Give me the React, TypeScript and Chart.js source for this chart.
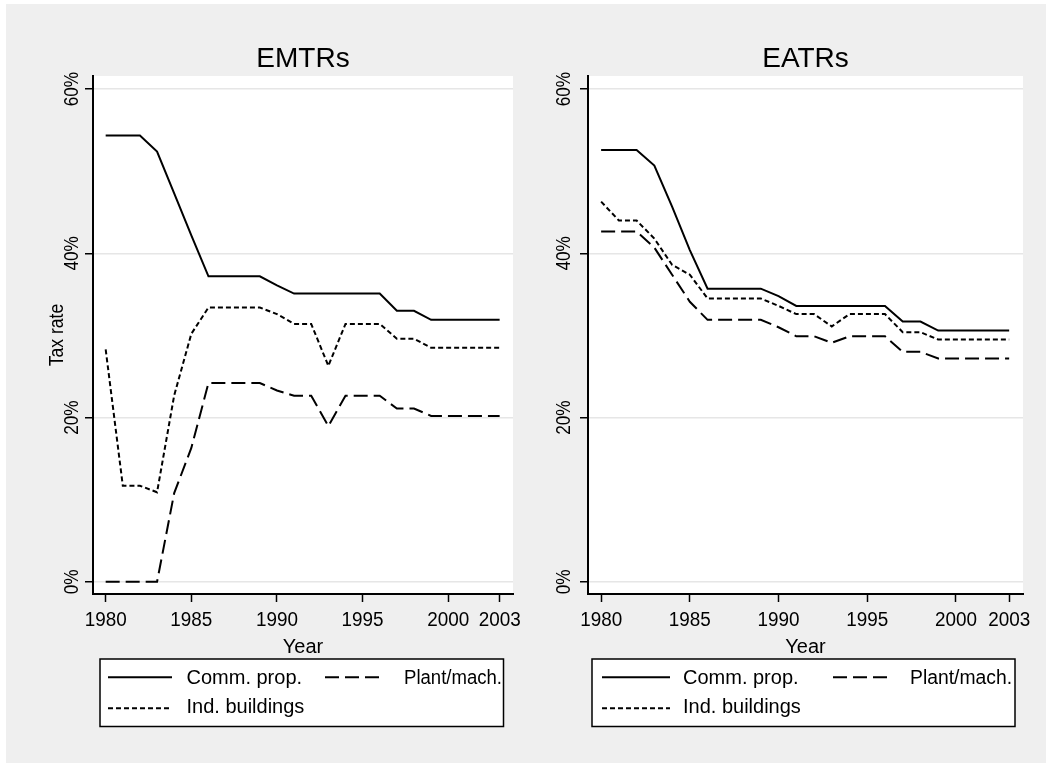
import React, { useEffect, useRef } from "react";
import { Chart, registerables } from "chart.js";

Chart.register(...registerables);

// ---------------- data ----------------
const years = [1980, 1981, 1982, 1983, 1984, 1985, 1986, 1987, 1988, 1989, 1990, 1991, 1992, 1993, 1994, 1995, 1996, 1997, 1998, 1999, 2000, 2001, 2002, 2003];

const emtrComm = [54.35, 54.35, 54.35, 52.4, 47.3, 42.2, 37.2, 37.2, 37.2, 37.2, 36.1, 35.1, 35.1, 35.1, 35.1, 35.1, 35.1, 33.0, 33.0, 31.9, 31.9, 31.9, 31.9, 31.9];
const emtrPlant = [0, 0, 0, 0, 10.8, 16.3, 24.2, 24.2, 24.2, 24.2, 23.3, 22.65, 22.65, 18.96, 22.65, 22.65, 22.65, 21.1, 21.1, 20.2, 20.2, 20.2, 20.2, 20.2];
const emtrInd = [28.3, 11.7, 11.7, 10.9, 22.7, 30.2, 33.4, 33.4, 33.4, 33.4, 32.6, 31.4, 31.4, 26.3, 31.4, 31.4, 31.4, 29.6, 29.6, 28.5, 28.5, 28.5, 28.5, 28.5];

const eatrComm = [52.6, 52.6, 52.6, 50.7, 45.7, 40.4, 35.7, 35.7, 35.7, 35.7, 34.8, 33.6, 33.6, 33.6, 33.6, 33.6, 33.6, 31.7, 31.7, 30.6, 30.6, 30.6, 30.6, 30.6];
const eatrPlant = [42.65, 42.65, 42.65, 40.7, 37.4, 34.1, 31.9, 31.9, 31.9, 31.9, 31.0, 29.9, 29.9, 29.1, 29.9, 29.9, 29.9, 28.0, 28.0, 27.2, 27.2, 27.2, 27.2, 27.2];
const eatrInd = [46.3, 44.0, 44.0, 41.8, 38.6, 37.4, 34.5, 34.5, 34.5, 34.5, 33.6, 32.6, 32.6, 31.1, 32.6, 32.6, 32.6, 30.4, 30.4, 29.5, 29.5, 29.5, 29.5, 29.5];

const xTickValues = [1980, 1985, 1990, 1995, 2000, 2003];
const yTickValues = [0, 20, 40, 60];
const yTickLabels = ["0%", "20%", "40%", "60%"];
const seriesNames = ["Comm. prop.", "Plant/mach.", "Ind. buildings"];
const panelTitles = ["EMTRs", "EATRs"];
const xAxisTitle = "Year";
const yAxisTitle = "Tax rate";

// ---------------- layout / style ----------------
const PAGE_H = 763;
const FONT = '"Liberation Sans", Arial, sans-serif';
const SOLID: number[] = [];
const LONG_DASH = [14, 6];
const SHORT_DASH = [5, 3];
const X_MIN = 1979.26;
const X_MAX = 2003.78;
const Y_MIN = -1.49;
const Y_MAX = 61.6;

type Layout = {
  left: number;
  width: number;
  area: { left: number; right: number; top: number; bottom: number };
  yLabelBaseline: number;
  yTitleBaseline: number | null;
  box: [number, number, number, number];
  col1: { s0: number; s1: number; text: number };
  col2: { s0: number; s1: number; text: number; maxW: number };
};

const layouts: Layout[] = [
  {
    left: 0,
    width: 545,
    area: { left: 93, right: 513, top: 76, bottom: 594 },
    yLabelBaseline: 78.4,
    yTitleBaseline: 62.5,
    box: [100, 659, 503.5, 726.5],
    col1: { s0: 108, s1: 172, text: 186.5 },
    col2: { s0: 325, s1: 380, text: 404, maxW: 98 },
  },
  {
    left: 520,
    width: 526,
    area: { left: 588, right: 1023, top: 76, bottom: 594 },
    yLabelBaseline: 570.3,
    yTitleBaseline: null,
    box: [592, 659, 1015, 726.5],
    col1: { s0: 602, s1: 670, text: 683 },
    col2: { s0: 833, s1: 888, text: 910, maxW: 102 },
  },
];

function Panel(props: {
  title: string;
  comm: number[];
  plant: number[];
  ind: number[];
  layout: Layout;
}) {
  const ref = useRef<HTMLCanvasElement | null>(null);
  useEffect(() => {
    const canvas = ref.current;
    if (!canvas) return;
    const L = props.layout;
    const ox = L.left;

    const texts = {
      id: "panelTexts",
      beforeDraw(chart: any) {
        const ca = chart.chartArea;
        const ctx = chart.ctx;
        ctx.save();
        ctx.fillStyle = "#ffffff";
        ctx.fillRect(ca.left, ca.top, ca.right - ca.left, ca.bottom - ca.top);
        ctx.restore();
      },
      afterDraw(chart: any) {
        const ctx = chart.ctx;
        const ca = chart.chartArea;
        const xs = chart.scales.x;
        const ys = chart.scales.y;
        const cx = (ca.left + ca.right) / 2;
        ctx.save();
        ctx.fillStyle = "#000";
        // title
        ctx.font = `28px ${FONT}`;
        ctx.textAlign = "center";
        ctx.textBaseline = "alphabetic";
        ctx.fillText(props.title, cx, 67);
        // x tick labels
        ctx.font = `20px ${FONT}`;
        xTickValues.forEach((v) => {
          ctx.fillText(String(v), xs.getPixelForValue(v), 626, 42);
        });
        // x title
        ctx.fillText(xAxisTitle, cx, 653);
        // y tick labels (rotated)
        yTickValues.forEach((v, i) => {
          ctx.save();
          ctx.translate(L.yLabelBaseline - ox, ys.getPixelForValue(v));
          ctx.rotate(-Math.PI / 2);
          ctx.scale(0.86, 1);
          ctx.textAlign = "center";
          ctx.fillText(yTickLabels[i], 0, 0);
          ctx.restore();
        });
        if (L.yTitleBaseline !== null) {
          ctx.save();
          ctx.translate(L.yTitleBaseline - ox, (ca.top + ca.bottom) / 2);
          ctx.rotate(-Math.PI / 2);
          ctx.scale(0.876, 1);
          ctx.textAlign = "center";
          ctx.fillText(yAxisTitle, 0, 0);
          ctx.restore();
        }
        // legend
        const [bx1, by1, bx2, by2] = L.box;
        ctx.fillStyle = "#fff";
        ctx.fillRect(bx1 - ox, by1, bx2 - bx1, by2 - by1);
        ctx.strokeStyle = "#000";
        ctx.lineWidth = 1.5;
        ctx.setLineDash([]);
        ctx.strokeRect(bx1 - ox, by1, bx2 - bx1, by2 - by1);
        const row1 = 677.3;
        const row2 = 708.3;
        const drawSample = (x0: number, x1: number, y: number, dash: number[]) => {
          ctx.beginPath();
          ctx.setLineDash(dash);
          ctx.lineWidth = 2;
          ctx.moveTo(x0 - ox, y);
          ctx.lineTo(x1 - ox, y);
          ctx.stroke();
        };
        drawSample(L.col1.s0, L.col1.s1, row1, SOLID);
        drawSample(L.col2.s0, L.col2.s1, row1, LONG_DASH);
        drawSample(L.col1.s0, L.col1.s1, row2, SHORT_DASH);
        ctx.setLineDash([]);
        ctx.fillStyle = "#000";
        ctx.font = `20px ${FONT}`;
        ctx.textAlign = "left";
        ctx.fillText(seriesNames[0], L.col1.text - ox, 684.3);
        ctx.fillText(seriesNames[1], L.col2.text - ox, 684.3, L.col2.maxW);
        ctx.fillText(seriesNames[2], L.col1.text - ox, 713.3);
        ctx.restore();
      },
    };

    const mk = (label: string, vals: number[], dash: number[]) => ({
      label,
      data: years.map((yr, i) => ({ x: yr, y: vals[i] })),
      borderColor: "#000",
      backgroundColor: "#000",
      borderWidth: 2,
      borderDash: dash,
      pointRadius: 0,
      tension: 0,
      fill: false,
    });

    const chart = new Chart(canvas, {
      type: "line",
      data: {
        datasets: [
          mk(seriesNames[0], props.comm, SOLID),
          mk(seriesNames[1], props.plant, LONG_DASH),
          mk(seriesNames[2], props.ind, SHORT_DASH),
        ],
      },
      options: {
        animation: false,
        responsive: false,
        layout: {
          padding: {
            left: L.area.left - ox,
            right: ox + L.width - L.area.right,
            top: L.area.top,
            bottom: PAGE_H - L.area.bottom,
          },
        },
        plugins: {
          legend: { display: false },
          title: { display: false },
          tooltip: { enabled: false },
        },
        scales: {
          x: {
            type: "linear",
            min: X_MIN,
            max: X_MAX,
            afterBuildTicks: (s: any) => {
              s.ticks = xTickValues.map((v) => ({ value: v }));
            },
            afterFit: (s: any) => {
              s.height = 0;
            },
            ticks: { display: false },
            grid: {
              drawOnChartArea: false,
              color: "rgba(0,0,0,0)",
              tickColor: "#000",
              tickLength: 8,
              tickWidth: 1.5,
            },
            border: { display: true, color: "#000", width: 2 },
          },
          y: {
            type: "linear",
            min: Y_MIN,
            max: Y_MAX,
            afterBuildTicks: (s: any) => {
              s.ticks = yTickValues.map((v) => ({ value: v }));
            },
            afterFit: (s: any) => {
              s.width = 0;
            },
            ticks: { display: false },
            grid: {
              color: "#e6e6e6",
              lineWidth: 1.5,
              tickColor: "#000",
              tickLength: 8,
              tickWidth: 1.5,
            },
            border: { display: true, color: "#000", width: 2 },
          },
        },
      } as any,
      plugins: [texts as any],
    });
    return () => chart.destroy();
  }, [props.title, props.comm, props.plant, props.ind, props.layout]);

  const L = props.layout;
  return (
    <canvas
      ref={ref}
      width={L.width}
      height={PAGE_H}
      style={{ position: "absolute", left: L.left, top: 0, width: L.width, height: PAGE_H }}
    />
  );
}

export default function App() {
  return (
    <div
      style={{
        position: "fixed",
        left: 0,
        top: 0,
        width: 1046,
        height: PAGE_H,
        background: "#ffffff",
        overflow: "hidden",
      }}
    >
      <div
        style={{
          position: "absolute",
          left: 6,
          top: 4,
          right: 0,
          bottom: 0,
          background: "#efefef",
        }}
      />
      <Panel title={panelTitles[0]} comm={emtrComm} plant={emtrPlant} ind={emtrInd} layout={layouts[0]} />
      <Panel title={panelTitles[1]} comm={eatrComm} plant={eatrPlant} ind={eatrInd} layout={layouts[1]} />
    </div>
  );
}
